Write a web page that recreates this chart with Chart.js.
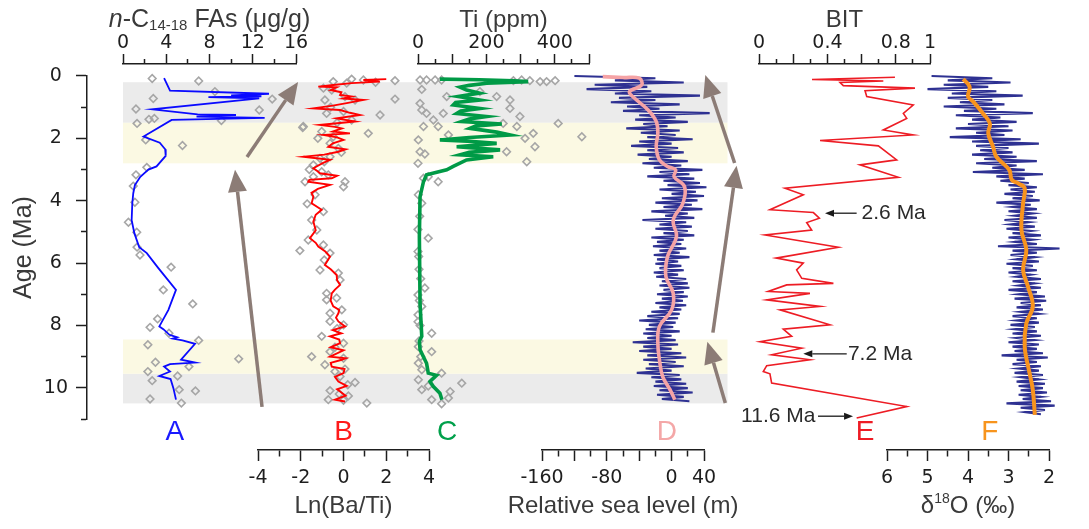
<!DOCTYPE html>
<html lang="en">
<head>
<meta charset="utf-8">
<title>Proxy records, 0–11 Ma</title>
<script src="https://cdn.jsdelivr.net/npm/chart.js@4.4.1/dist/chart.umd.min.js"></script>
<style>
  html, body { margin: 0; background: #ffffff; }
  canvas { display: block; }
</style>
</head>
<body>
<canvas id="proxyChart" width="1089" height="529"></canvas>
<script>
// ---- records: [age (Ma), value] pairs ----

// A: n-C14-18 fatty acids (ug/g)
const faLine = [
  [0.07, 3.8], [0.47, 4.35], [0.57, 13.5], [0.62, 10.0], [0.65, 12.8], [0.68, 7.9], [0.72, 12.6],
  [1.07, 2.7], [1.23, 6.9], [1.25, 10.45], [1.28, 8.0], [1.30, 6.8], [1.34, 13.1], [1.41, 4.5],
  [1.94, 1.9], [2.14, 3.4], [2.35, 3.9], [2.56, 3.95], [2.90, 3.1], [3.00, 2.35], [3.23, 1.6],
  [3.50, 1.1], [3.76, 0.95], [4.08, 0.86], [4.62, 0.8], [5.04, 1.05], [5.49, 1.5], [5.68, 2.2],
  [6.16, 3.27], [6.86, 4.9], [7.50, 4.2], [8.03, 3.36], [8.12, 3.73], [8.30, 4.3], [8.38, 5.0],
  [8.42, 4.6], [8.48, 5.5], [8.59, 6.66], [9.10, 5.37], [9.19, 6.66], [9.24, 4.35], [9.32, 3.8],
  [9.48, 4.35], [9.62, 3.36], [9.72, 4.4], [10.01, 4.66], [10.38, 4.9]
];
const faDots = [
  [0.08, 2.7], [0.16, 7.0], [0.50, 8.5], [0.72, 2.8], [0.74, 13.8], [1.06, 1.2], [1.09, 12.6],
  [1.36, 2.9], [1.39, 2.4], [1.43, 9.1], [1.52, 1.3], [2.05, 2.1], [2.23, 5.5], [2.93, 2.2],
  [3.17, 1.2], [3.53, 0.95], [4.05, 1.1], [4.69, 0.5], [5.01, 1.27], [5.49, 1.3], [5.74, 1.57],
  [6.13, 4.45], [6.86, 3.73], [7.31, 6.45], [7.79, 3.2], [8.06, 2.5], [8.25, 4.25], [8.48, 7.0],
  [8.62, 2.3], [9.07, 10.7], [9.18, 3.0], [9.32, 6.1], [9.48, 2.3], [9.62, 5.05], [9.77, 2.7],
  [10.06, 5.2], [10.10, 6.7], [10.36, 2.5], [10.49, 5.4]
];

// B: Ln(Ba/Ti)
const baTiLine = [
  [0.10, 2.0], [0.13, 0.93], [0.18, 1.7], [0.23, 0.38], [0.29, -0.48], [0.34, -1.18], [0.36, -0.32],
  [0.45, -0.6], [0.52, -0.1], [0.61, -0.16], [0.66, 0.38], [0.72, 0.0], [0.77, 0.93], [0.87, 0.15],
  [0.95, -0.5], [1.04, -1.41], [1.09, -0.16], [1.18, 0.3], [1.25, 0.77], [1.36, -0.32], [1.46, 0.54],
  [1.57, -1.1], [1.63, -0.4], [1.68, -0.08], [1.78, -0.5], [1.84, 0.3], [1.89, -0.94], [1.97, -0.3],
  [2.05, 0.0], [2.16, -0.5], [2.27, -0.71], [2.35, 0.1], [2.43, -0.24], [2.52, -0.9], [2.59, -1.88],
  [2.69, -0.63], [2.80, -1.0], [2.96, -1.41], [3.07, -1.18], [3.12, -1.1], [3.20, -0.3], [3.28, -0.55],
  [3.33, -1.6], [3.39, -1.65], [3.49, -0.63], [3.62, -1.2], [3.75, -1.5], [3.87, -1.41], [4.08, -1.49],
  [4.29, -1.02], [4.45, -1.3], [4.67, -1.41], [4.95, -1.3], [5.20, -1.57], [5.35, -1.3], [5.47, -1.18],
  [5.63, -0.85], [5.79, -0.63], [6.06, -0.87], [6.20, -0.6], [6.38, -0.32], [6.55, -0.3], [6.70, -0.16],
  [6.85, -0.4], [6.97, -0.55], [7.20, -0.6], [7.39, -0.48], [7.50, -0.2], [7.61, -0.24], [7.75, -0.35],
  [7.87, -0.24], [8.03, 0.07], [8.15, -0.5], [8.25, -0.1], [8.35, -0.63], [8.45, -0.2], [8.57, -0.16],
  [8.70, -0.6], [8.80, 0.0], [9.00, -0.63], [9.05, 0.1], [9.10, -0.08], [9.20, -0.6], [9.32, -0.55],
  [9.40, 0.05], [9.53, 0.0], [9.65, -0.4], [9.80, -0.24], [9.94, 0.15], [10.05, -0.3], [10.12, -0.16],
  [10.25, 0.1], [10.38, -0.4], [10.44, 0.07]
];
const baTiDots = [
  [0.10, 0.38], [0.13, 0.93], [0.15, 2.41], [0.18, -0.48], [0.20, 1.5], [0.23, 0.15], [0.39, -0.94],
  [0.45, -0.55], [0.66, 0.07], [0.74, 2.41], [0.77, 0.54], [0.77, -0.87], [1.00, -0.6], [1.14, 0.0],
  [1.20, -0.79], [1.25, 1.71], [1.41, 0.38], [1.50, -0.3], [1.62, -1.88], [1.65, -1.91], [1.78, -1.02],
  [1.84, 1.16], [1.95, -0.48], [2.00, -1.2], [2.16, -0.63], [2.32, -0.24], [2.45, -0.1], [2.59, -0.63],
  [2.64, -1.1], [2.75, -0.9], [2.85, -1.41], [3.00, -1.6], [3.07, -1.02], [3.17, -0.71], [3.23, -1.41],
  [3.39, -1.8], [3.39, 0.07], [3.55, 0.0], [3.81, -1.33], [4.10, -1.7], [4.35, -0.94], [4.62, -1.49],
  [4.94, -1.25], [5.26, -1.65], [5.42, -0.94], [5.60, -2.04], [5.68, -0.63], [5.90, -0.9], [6.22, -1.1],
  [6.32, -0.24], [6.54, -0.16], [6.97, -0.79], [7.12, -0.32], [7.18, -0.79], [7.50, -0.08], [7.61, -0.63],
  [7.87, -0.63], [7.98, 0.0], [8.10, -0.3], [8.35, -1.02], [8.57, 0.0], [8.70, -0.4], [8.84, -0.63],
  [9.00, -1.49], [9.05, 0.0], [9.26, -0.87], [9.40, 0.07], [9.48, -0.4], [9.64, -0.16], [9.83, 0.54],
  [9.90, 0.2], [10.09, -0.63], [10.20, -0.2], [10.26, 0.23], [10.38, -0.71], [10.40, 0.0], [10.49, 1.09]
];

// C: Ti (ppm)
const tiLine = [
  [0.10, 64], [0.12, 180], [0.15, 280], [0.18, 322], [0.23, 201], [0.30, 150], [0.36, 123], [0.45, 142],
  [0.55, 180], [0.66, 118], [0.77, 181], [0.85, 110], [0.93, 103], [1.04, 181], [1.12, 125], [1.20, 113],
  [1.30, 201], [1.38, 150], [1.46, 128], [1.54, 245], [1.60, 170], [1.68, 152], [1.80, 230], [1.89, 269],
  [1.97, 150], [2.05, 64], [2.10, 160], [2.16, 230], [2.27, 113], [2.37, 240], [2.45, 150], [2.53, 123],
  [2.59, 220], [2.69, 142], [2.90, 103], [3.01, 84], [3.17, 25], [3.39, 16], [3.87, 6], [5.15, 4],
  [7.29, 6], [8.35, 11], [8.50, 4], [8.78, 6], [9.21, 25], [9.53, 30], [9.60, 54], [9.64, 50],
  [9.80, 35], [9.96, 45], [10.17, 64], [10.38, 70]
];
const tiDots = [
  [0.13, 6], [0.13, 25], [0.13, 50], [0.13, 69], [0.15, 279], [0.13, 303], [0.15, 327], [0.18, 357],
  [0.18, 376], [0.15, 401], [0.43, 11], [0.50, 181], [0.66, 84], [0.66, 230], [0.77, 269], [0.88, 6],
  [1.04, 269], [1.09, 11], [1.20, 25], [1.20, 74], [1.30, 298], [1.41, 45], [1.52, 249], [1.52, 410],
  [1.62, 16], [1.62, 59], [1.62, 289], [1.84, 337], [1.89, 89], [1.95, 479], [2.00, 313], [2.05, 1],
  [2.27, 342], [2.43, 6], [2.43, 259], [2.50, 20], [2.75, 318], [2.80, 0], [3.23, 30], [3.28, 16],
  [3.39, 59], [3.81, 1], [4.08, 11], [4.50, 5], [4.92, 0], [5.20, 30], [5.63, 0], [5.79, 2],
  [6.20, 3], [6.50, 8], [6.80, 20], [7.02, 0], [7.20, 4], [7.39, 11], [7.66, 0], [7.88, 0],
  [8.00, 6], [8.25, 40], [8.50, 3], [8.68, 1], [8.84, 40], [9.00, 8], [9.21, 1], [9.42, 11],
  [9.53, 69], [9.74, 1], [9.85, 128], [9.94, 30], [10.06, 11], [10.12, 94], [10.33, 89], [10.38, 40],
  [10.51, 69]
];

// D: relative sea level (m); raw series sampled every 0.07 Ma from 0 Ma
const seaLevelStep = 0.07;
const seaLevelRaw = [
  -120, -20, -70, 15, -95, -30, -105, -25, -70, 35,
  -65, -20, -75, 10, -55, -15, -60, 47, -40, 5,
  -45, 20, -35, -5, -56, 10, -38, 5, -30, 26,
  -40, 0, -50, 8, -30, 15, -42, 0, -28, 20,
  -36, 12, -22, 38, -15, 22, -30, 28, -10, 35,
  -5, 43, -15, 30, 0, 40, -12, 32, -20, 25,
  -10, 38, -25, 20, -8, 28, -36, 18, -15, 25,
  -20, 20, -10, 28, -25, 15, -18, 12, -23, 18,
  -15, 10, -22, 22, -18, 8, -20, 12, -15, 15,
  -22, 8, -19, 18, -12, 20, -15, 22, -10, 15,
  -18, 20, -12, 14, -20, 18, -15, 12, -25, 10,
  -30, 8, -40, 5, -28, 2, -32, 10, -35, 0,
  -30, 5, -48, 8, -35, 0, -40, 12, -30, 18,
  -35, 5, -28, 15, -32, 0, -43, 10, -25, 12,
  -20, 18, -22, 20, -15, 26, -18, 15, -12, 22
];
const seaLevelSmooth = [
  [0.02, -85], [0.05, -60], [0.07, -40], [0.29, -37], [0.50, -52], [0.66, -48], [1.09, -29],
  [1.46, -19], [1.84, -17], [2.27, -19], [2.69, -15], [2.90, -5], [3.01, 5], [3.23, 3], [3.55, 16],
  [4.08, 14], [4.62, 2], [5.15, 6], [5.79, -5], [6.43, -7], [6.97, 2], [7.50, 0], [8.03, -15],
  [8.57, -17], [9.10, -15], [9.64, -11], [10.06, -2], [10.38, 4]
];

// E: BIT index
const bitLine = [
  [0.04, 0.795], [0.11, 0.31], [0.16, 0.727], [0.21, 0.474], [0.31, 0.493], [0.39, 0.912], [0.47, 0.62],
  [0.66, 0.63], [0.93, 0.902], [1.20, 0.844], [1.36, 0.864], [1.73, 0.727], [1.89, 0.902], [2.07, 0.357],
  [2.24, 0.698], [2.69, 0.805], [2.85, 0.59], [3.25, 0.815], [3.60, 0.152], [3.81, 0.259], [4.00, 0.181],
  [4.29, 0.064], [4.38, 0.318], [4.56, 0.353], [4.70, 0.279], [4.94, 0.308], [5.10, 0.035], [5.49, 0.464],
  [5.84, 0.10], [6.00, 0.259], [6.22, 0.22], [6.49, 0.25], [6.65, 0.435], [6.70, 0.162], [6.91, 0.054],
  [6.97, 0.298], [7.18, 0.045], [7.39, 0.357], [7.50, 0.123], [7.98, 0.415], [8.12, 0.142], [8.35, 0.191],
  [8.52, 0.006], [8.73, 0.25], [8.94, 0.074], [9.10, 0.298], [9.29, 0.045], [9.48, 0.025], [9.55, 0.064],
  [9.85, 0.074], [10.60, 0.864], [10.97, 0.571]
];

// F: benthic d18O (permil); raw series sampled every 0.07 Ma from 0 Ma
const d18OStep = 0.07;
const d18ORaw = [
  4.9, 3.4, 4.5, 2.95, 4.6, 3.5, 5.0, 3.3, 4.4, 2.65,
  4.5, 3.4, 4.2, 3.1, 4.6, 3.3, 4.1, 2.4, 4.3, 3.2,
  3.9, 2.8, 4.0, 3.0, 4.3, 2.9, 3.8, 3.1, 4.45, 2.7,
  3.9, 2.25, 3.8, 3.0, 3.7, 2.9, 3.9, 2.8, 3.6, 2.3,
  3.8, 2.8, 3.4, 2.6, 3.88, 2.15, 3.3, 2.6, 3.2, 2.5,
  3.0, 2.3, 2.95, 2.35, 3.1, 2.4, 2.9, 2.23, 3.3, 2.45,
  2.9, 2.3, 3.0, 2.4, 2.85, 2.3, 3.1, 2.5, 2.95, 2.35,
  3.05, 2.45, 2.9, 2.2, 3.0, 2.4, 2.85, 2.3, 3.26, 1.74,
  2.9, 2.3, 2.95, 2.35, 2.8, 2.25, 3.05, 2.4, 2.9, 2.3,
  3.0, 2.45, 2.8, 2.2, 2.9, 2.35, 2.75, 2.2, 3.0, 2.3,
  2.75, 2.1, 2.85, 2.07, 2.7, 2.2, 2.8, 2.15, 2.7, 2.25,
  2.9, 2.3, 2.8, 2.25, 2.95, 2.35, 2.85, 2.3, 2.9, 2.2,
  2.8, 2.35, 3.0, 2.25, 2.9, 2.3, 2.85, 2.15, 3.17, 2.03,
  2.8, 2.3, 2.9, 2.2, 2.75, 2.25, 2.85, 2.15, 2.7, 2.25,
  2.8, 2.1, 2.75, 2.15, 2.7, 2.05, 2.75, 2.2, 2.65, 1.95,
  3.05, 1.86, 2.7, 2.1, 2.6, 2.2
];
const d18OSmooth = [
  [0.10, 4.12], [0.34, 3.96], [0.66, 4.0], [0.82, 3.87], [1.20, 3.63], [1.52, 3.46], [1.84, 3.5],
  [2.27, 3.38], [2.59, 3.3], [3.01, 2.98], [3.33, 2.92], [3.45, 2.75], [3.60, 2.6], [4.08, 2.64],
  [4.94, 2.68], [5.58, 2.56], [6.22, 2.64], [6.75, 2.52], [7.39, 2.4], [7.93, 2.56], [8.68, 2.6],
  [9.53, 2.48], [10.06, 2.4], [10.87, 2.35]
];

// tick labels
const ageTickLabels = [0, 2, 4, 6, 8, 10];
const faTickLabels = [0, 4, 8, 12, 16];
const baTiTickLabels = [-4, -2, 0, 2, 4];
const tiTickLabels = [0, 200, 400];
const seaTickLabels = [-160, -80, 0, 40];
const bitTickLabels = [0, 0.4, 0.8, 1];
const d18OTickLabels = [6, 5, 4, 3, 2];

// shaded intervals (Ma)
const greyBands = [[0.2, 1.5], [9.55, 10.5]];
const yellowBands = [[1.5, 2.8], [8.45, 9.55]];

// ---- styling ----
const sans = '"Liberation Sans", Arial, sans-serif';
const tickFont = { family: '"DejaVu Sans", sans-serif', size: 19 };
const ink = '#1e1e1e';
const titleInk = '#3a3a3a';
const dotGrey = '#a6a6a6';
const navy = '#2e3192';

const toPoints = pairs => pairs.map(([age, v]) => ({ x: v, y: age }));
const stepPoints = (values, step) => values.map((v, i) => ({ x: v, y: +(i * step).toFixed(2) }));
const isMultiple = (v, step) => Math.abs(v / step - Math.round(v / step)) < 1e-6;

// one panel axis inside the top or bottom row
function panelScale(position, weight, stackWeight, min, max, step, majorStep, labels, reverse) {
  const top = position === 'top';
  const tl = top ? 10 : 11;
  const minor = top ? 5 : 6;
  return {
    type: 'linear', axis: 'x', position, weight,
    stack: top ? 'topRow' : 'bottomRow', stackWeight,
    min, max, reverse: !!reverse,
    afterFit: s => { s.height = top ? 64 : 79; },
    ticks: {
      stepSize: step, autoSkip: false, maxRotation: 0, minRotation: 0,
      padding: top ? 0 : 6, font: tickFont, color: ink,
      callback: v => labels.some(l => Math.abs(l - v) < 1e-9) ? String(Math.round(v * 10) / 10) : ''
    },
    grid: {
      drawOnChartArea: false, tickLength: tl, tickWidth: 1.5, tickColor: ink,
      tickBorderDash: ctx => isMultiple(ctx.tick.value, majorStep) ? [] : (top ? [0, tl - minor, minor, 100] : [minor, 100])
    },
    border: { color: ink, width: 1.5 },
    title: { display: false }
  };
}

// empty axis used to leave space between panels
function gapScale(position, weight, stackWeight, height) {
  const s = {
    type: 'linear', axis: 'x', position, weight, display: true,
    ticks: { display: false }, grid: { display: false, drawTicks: false },
    border: { display: false }, title: { display: false },
    afterFit: sc => { sc.height = height; }
  };
  if (stackWeight) {
    s.stack = position === 'top' ? 'topRow' : 'bottomRow';
    s.stackWeight = stackWeight;
  }
  return s;
}

// axis titles drawn as rich text so sub/superscripts work
const axisTitles = [
  { scale: 'xA', parts: [
    { text: 'n', font: 'italic 25px ' + sans }, { text: '-C', font: '25px ' + sans },
    { text: '14-18', font: '15px ' + sans, dy: 6 }, { text: ' FAs (μg/g)', font: '25px ' + sans }] },
  { scale: 'xC', parts: [{ text: 'Ti (ppm)', font: '24px ' + sans }] },
  { scale: 'xE', parts: [{ text: 'BIT', font: '24px ' + sans }] },
  { scale: 'xB', parts: [{ text: 'Ln(Ba/Ti)', font: '24px ' + sans }] },
  { scale: 'xD', parts: [{ text: 'Relative sea level (m)', font: '24px ' + sans }] },
  { scale: 'xF', parts: [
    { text: 'δ', font: '24px ' + sans }, { text: '18', font: '14px ' + sans, dy: -7 },
    { text: 'O (‰)', font: '24px ' + sans }] }
];

// panel letters: [text, axis, x value, colour]
const panelLetters = [
  ['A', 'xA', 4.8, '#1a1aff'], ['B', 'xB', 0, '#ff1a1a'], ['C', 'xC', 85, '#00a04b'],
  ['D', 'xD', -6, '#f4a7a7'], ['E', 'xE', 0.62, '#ee1c25'], ['F', 'xF', 3.46, '#f7941d']
];

// trend arrows: axis, tail [x, age], tip [x, age]
const trendArrows = [
  ['xA', [12.86, 10.61], [10.36, 3.01]],
  ['xA', [11.47, 2.6], [16.19, 0.19]],
  ['xD', [77.8, 2.79], [41.6, -0.03]],
  ['xD', [51, 8.23], [80.2, 2.88]],
  ['xD', [66.3, 10.49], [44.1, 8.52]]
];

// age markers on the BIT curve: label, age, arrow tail, arrow tip, text anchor (BIT units)
const ageMarks = [
  ['2.6 Ma', 4.4, 0.571, 0.386, 0.60],
  ['7.2 Ma', 8.91, 0.513, 0.259, 0.52],
  ['11.6 Ma', 10.91, 0.345, 0.55, 0.33]
];
const bandRightEdge = 69;   // shading stops just right of panel D (sea level units)

function drawArrow(ctx, x0, y0, x1, y1, head, width) {
  const a = Math.atan2(y1 - y0, x1 - x0);
  const bx = x1 - head * Math.cos(a), by = y1 - head * Math.sin(a);
  const hx = width / 2 * Math.sin(a), hy = width / 2 * Math.cos(a);
  ctx.beginPath(); ctx.moveTo(x0, y0); ctx.lineTo(bx, by); ctx.stroke();
  ctx.beginPath(); ctx.moveTo(x1, y1);
  ctx.lineTo(bx + hx, by - hy); ctx.lineTo(bx - hx, by + hy);
  ctx.closePath(); ctx.fill();
}

function drawRichText(ctx, parts, cx, cy) {
  let total = 0;
  parts.forEach(p => { ctx.font = p.font; p.w = ctx.measureText(p.text).width; total += p.w; });
  let x = cx - total / 2;
  ctx.textAlign = 'left';
  ctx.textBaseline = 'middle';
  parts.forEach(p => { ctx.font = p.font; ctx.fillText(p.text, x, cy + (p.dy || 0)); x += p.w; });
}

const overlayPlugin = {
  id: 'overlay',
  beforeDatasetsDraw(chart) {
    const { ctx, scales } = chart;
    const left = scales.xA.getPixelForValue(0);
    const right = scales.xD.getPixelForValue(bandRightEdge);
    const fill = (bands, color) => bands.forEach(([a, b]) => {
      const y0 = scales.y.getPixelForValue(a), y1 = scales.y.getPixelForValue(b);
      ctx.fillStyle = color;
      ctx.fillRect(left, y0, right - left, y1 - y0);
    });
    ctx.save();
    fill(greyBands, '#ebebeb');
    fill(yellowBands, '#fbf9e3');
    ctx.restore();
  },
  afterDatasetsDraw(chart) {
    const { ctx, scales } = chart;
    ctx.save();
    ctx.strokeStyle = '#8c7c76';
    ctx.fillStyle = '#8c7c76';
    ctx.lineWidth = 3.5;
    trendArrows.forEach(([id, from, to]) => {
      const s = scales[id];
      drawArrow(ctx, s.getPixelForValue(from[0]), scales.y.getPixelForValue(from[1]),
        s.getPixelForValue(to[0]), scales.y.getPixelForValue(to[1]), 22, 19);
    });
    ctx.restore();
  },
  afterDraw(chart) {
    const { ctx, scales, chartArea } = chart;
    ctx.save();

    // axis titles
    ctx.fillStyle = titleInk;
    axisTitles.forEach(t => {
      const s = scales[t.scale];
      const cx = (s.left + s.right) / 2;
      const cy = s.position === 'top' ? s.top + 20 : s.bottom - 23;
      drawRichText(ctx, t.parts, cx, cy);
    });

    // panel letters
    ctx.font = '28px ' + sans;
    ctx.textAlign = 'center';
    ctx.textBaseline = 'middle';
    panelLetters.forEach(([txt, id, v, color]) => {
      ctx.fillStyle = color;
      ctx.fillText(txt, scales[id].getPixelForValue(v), chartArea.bottom + 13);
    });

    // age markers on the BIT record
    const xE = scales.xE;
    ctx.strokeStyle = '#1a1a1a';
    ctx.lineWidth = 1.3;
    ageMarks.forEach(([label, age, tail, tip, anchor]) => {
      const y = scales.y.getPixelForValue(age);
      ctx.fillStyle = '#1a1a1a';
      drawArrow(ctx, xE.getPixelForValue(tail), y, xE.getPixelForValue(tip), y, 9, 7);
      ctx.font = '21px ' + sans;
      ctx.fillStyle = '#2a2a2a';
      ctx.textAlign = tip > tail ? 'right' : 'left';
      ctx.fillText(label, xE.getPixelForValue(anchor), y);
    });
    ctx.restore();
  }
};

const lineSet = (data, axis, color, width, extra) => Object.assign({
  data, xAxisID: axis, yAxisID: 'y', showLine: true, borderColor: color, borderWidth: width,
  pointRadius: 0, pointHoverRadius: 0, tension: 0, fill: false, clip: false, order: 1
}, extra || {});

const dotSet = (data, axis) => ({
  data, xAxisID: axis, yAxisID: 'y', showLine: false, pointStyle: 'rectRot', pointRadius: 3.8,
  pointBorderWidth: 1.6, pointBorderColor: dotGrey, pointBackgroundColor: 'rgba(255,255,255,0)',
  clip: false, order: 3
});

new Chart(document.getElementById('proxyChart'), {
  type: 'scatter',
  data: {
    datasets: [
      dotSet(toPoints(faDots), 'xA'),
      lineSet(toPoints(faLine), 'xA', '#0a0aff', 1.8),
      dotSet(toPoints(baTiDots), 'xB'),
      lineSet(toPoints(baTiLine), 'xB', '#ff0000', 1.9),
      dotSet(toPoints(tiDots), 'xC'),
      lineSet(toPoints(tiLine), 'xC', '#009a46', 3.6),
      lineSet(stepPoints(seaLevelRaw, seaLevelStep), 'xD', navy, 2.1, { order: 2 }),
      lineSet(toPoints(seaLevelSmooth), 'xD', '#f5a3a5', 3.6, { tension: 0.4 }),
      lineSet(toPoints(bitLine), 'xE', '#ed1c24', 1.6),
      lineSet(stepPoints(d18ORaw, d18OStep), 'xF', navy, 2.1, { order: 2 }),
      lineSet(toPoints(d18OSmooth), 'xF', '#f7931e', 4, { tension: 0.4 })
    ]
  },
  options: {
    responsive: false,
    animation: false,
    events: [],
    layout: { autoPadding: false, padding: { left: 0, right: 40, top: 0, bottom: 0 } },
    plugins: { legend: { display: false }, tooltip: { enabled: false } },
    scales: {
      y: {
        type: 'linear', position: 'left', reverse: true, min: 0, max: 11,
        afterFit: s => { s.width = 87; },
        ticks: {
          stepSize: 1, autoSkip: false, crossAlign: 'center', padding: 8, font: tickFont, color: ink,
          callback: v => ageTickLabels.includes(v) ? String(v) : ''
        },
        grid: {
          drawOnChartArea: false, tickLength: 11, tickWidth: 1.5, tickColor: ink,
          tickBorderDash: ctx => isMultiple(ctx.tick.value, 2) ? [] : [0, 5, 6, 100]
        },
        border: { color: ink, width: 1.5 },
        title: { display: true, text: 'Age (Ma)', color: titleInk, font: { family: sans, size: 25 }, padding: { top: 9, bottom: 0 } }
      },
      // top row: gap | A | gap | C | gap | E | gap
      gapT0: gapScale('top', 16, 36, 64),
      xA: panelScale('top', 15, 173, 0, 16, 2, 4, faTickLabels),
      gapT1: gapScale('top', 14, 122, 64),
      xC: panelScale('top', 13, 171, 0, 500, 50, 100, tiTickLabels),
      gapT2: gapScale('top', 12, 170, 64),
      xE: panelScale('top', 11, 171, 0, 1, 0.1, 0.2, bitTickLabels),
      gapT3: gapScale('top', 10, 119, 64),
      topSpacer: gapScale('top', 0, 0, 12),
      // bottom row: gap | B | gap | D | gap | F
      bottomSpacer: gapScale('bottom', 0, 0, 31),
      gapB0: gapScale('bottom', 10, 171, 79),
      xB: panelScale('bottom', 11, 171, -4, 4, 1, 2, baTiTickLabels),
      gapB1: gapScale('bottom', 12, 113, 79),
      xD: panelScale('bottom', 13, 162, -160, 40, 20, 40, seaTickLabels),
      gapB2: gapScale('bottom', 14, 183, 79),
      xF: panelScale('bottom', 15, 162, 2, 6, 0.5, 1, d18OTickLabels, true)
    }
  },
  plugins: [overlayPlugin]
});
</script>
</body>
</html>
